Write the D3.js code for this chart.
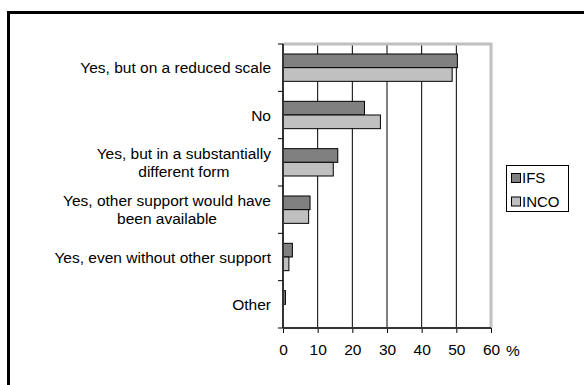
<!DOCTYPE html>
<html><head><meta charset="utf-8">
<script src="https://cdn.jsdelivr.net/npm/d3@7"></script>
<style>body{margin:0;background:#fff}svg{display:block}text{font-family:"Liberation Sans",Arial,sans-serif;fill:#000}</style>
</head><body>
<svg id="c" width="584" height="385"></svg>
<script>
const categories = [
  ["Yes, but on a reduced scale"],
  ["No"],
  ["Yes, but in a substantially", "different form"],
  ["Yes, other support would have", "been available"],
  ["Yes, even without other support"],
  ["Other"]
];
const seriesNames = ["IFS", "INCO"];
const ifsValues = [50.3, 23.5, 15.8, 7.8, 2.7, 0.7];
const incoValues = [48.8, 28.1, 14.5, 7.4, 1.7, 0];
const xTicks = [0, 10, 20, 30, 40, 50, 60];
const colors = ["#808080", "#c0c0c0"];

const svg = d3.select("#c");
const fs = 15.5;
const x0 = 283, x1 = 491, yTop = 44, yBot = 328;
const x = d3.scaleLinear().domain([0, 60]).range([x0, x1]);
const y = d3.scaleBand().domain(d3.range(categories.length)).range([yTop, yBot]).padding(0);
const barH = 13.67;
const sub = d3.scaleBand().domain(seriesNames).range([0, barH * 2]);

// outer frame
svg.append("rect").attr("x", 8.5).attr("y", 12.5).attr("width", 620).attr("height", 420)
  .attr("fill", "none").attr("stroke", "#000").attr("stroke-width", 3);

// gridlines
svg.append("g").selectAll("line").data(xTicks.slice(1, -1)).join("line")
  .attr("x1", d => x(d)).attr("x2", d => x(d)).attr("y1", yTop).attr("y2", yBot)
  .attr("stroke", "#000").attr("stroke-width", 1);
// plot border top / right gray
svg.append("path").attr("d", `M${x0},${yTop}H${x1}V${yBot}`).attr("fill", "none")
  .attr("stroke", "#c0c0c0").attr("stroke-width", 3);

// bars
const data = categories.map((c, i) => ({i, vals: [ifsValues[i], incoValues[i]]}));
const g = svg.append("g");
data.forEach(d => {
  const off = y(d.i) + (y.bandwidth() - barH * 2) / 2;
  seriesNames.forEach((s, k) => {
    const v = d.vals[k];
    if (v <= 0) return;
    g.append("rect").attr("x", x(0)).attr("y", off + sub(s))
      .attr("width", x(v) - x(0)).attr("height", sub.bandwidth())
      .attr("fill", colors[k]).attr("stroke", "#000").attr("stroke-width", 1);
  });
});

// bottom axis
const xa = svg.append("g").attr("transform", `translate(0,${yBot})`)
  .call(d3.axisBottom(x).tickValues(xTicks).tickSize(5).tickSizeOuter(0).tickPadding(11));
xa.attr("font-family", null).attr("font-size", null);
xa.select(".domain").remove();
xa.selectAll("line").attr("stroke", "#000");
xa.selectAll("text").attr("font-size", fs).attr("fill", "#000");
svg.append("line").attr("x1", x0).attr("x2", x1).attr("y1", yBot).attr("y2", yBot).attr("stroke", "#333").attr("stroke-width", 2);
svg.append("text").attr("x", 506).attr("y", yBot + 28).attr("font-size", fs).text("%");

// left axis
svg.append("line").attr("x1", x0).attr("x2", x0).attr("y1", yTop).attr("y2", yBot).attr("stroke", "#333").attr("stroke-width", 2);
const bounds = d3.range(categories.length + 1).map(i => yTop + i * y.bandwidth());
svg.append("g").selectAll("line").data(bounds).join("line")
  .attr("x1", x0 - 5).attr("x2", x0).attr("y1", d => d).attr("y2", d => d).attr("stroke", "#000");

// category labels
const lh = 18;
categories.forEach((lines, i) => {
  const cy = y(i) + y.bandwidth() / 2;
  const texts = lines.map((l, j) => svg.append("text").attr("font-size", fs).attr("text-anchor", "middle")
    .attr("y", cy + (j - (lines.length - 1) / 2) * lh + 5.5).text(l));
  const w = d3.max(texts, t => t.node().getComputedTextLength());
  texts.forEach(t => t.attr("x", 271 - w / 2));
});

// legend
const lg = svg.append("g");
lg.append("rect").attr("x", 506.5).attr("y", 165.5).attr("width", 62).attr("height", 46)
  .attr("fill", "#fff").attr("stroke", "#000").attr("stroke-width", 1);
seriesNames.forEach((s, k) => {
  const yy = 173 + k * 23.5;
  lg.append("rect").attr("x", 511.5).attr("y", yy + 0.5).attr("width", 9).attr("height", 9)
    .attr("fill", colors[k]).attr("stroke", "#000").attr("stroke-width", 1);
  lg.append("text").attr("x", 522).attr("y", yy + 10).attr("font-size", fs - 0.5).text(s);
});
</script>
</body></html>
